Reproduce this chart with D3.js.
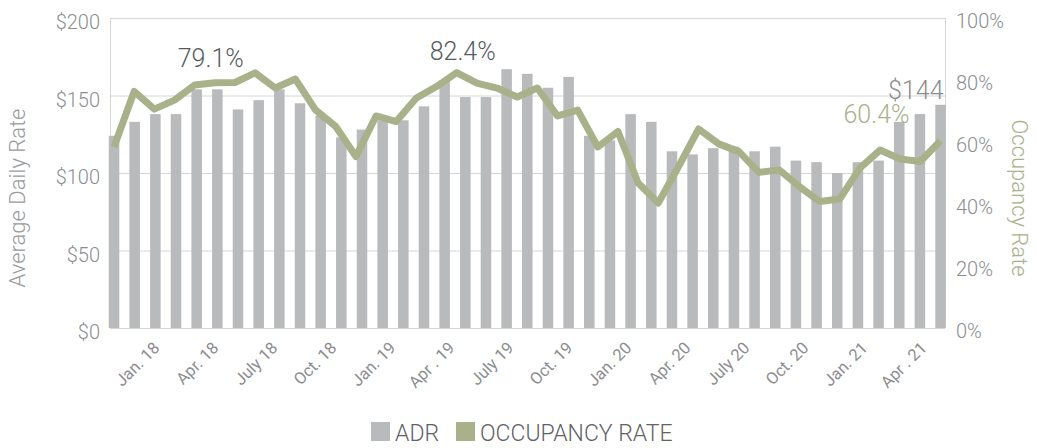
<!DOCTYPE html>
<html>
<head>
<meta charset="utf-8">
<script src="https://cdn.jsdelivr.net/npm/d3@7"></script>
<style>
  html, body { margin: 0; padding: 0; background: #ffffff; }
  svg { display: block; font-family: Roboto, "Noto Sans", sans-serif; }
</style>
</head>
<body>
<script>
// Monthly average daily rate (bars), Dec 2017 – Apr 2021
const adrMonths = [
  "Dec 17",
  "Jan 18","Feb 18","Mar 18","Apr 18","May 18","Jun 18","Jul 18","Aug 18","Sep 18","Oct 18","Nov 18","Dec 18",
  "Jan 19","Feb 19","Mar 19","Apr 19","May 19","Jun 19","Jul 19","Aug 19","Sep 19","Oct 19","Nov 19","Dec 19",
  "Jan 20","Feb 20","Mar 20","Apr 20","May 20","Jun 20","Jul 20","Aug 20","Sep 20","Oct 20","Nov 20","Dec 20",
  "Jan 21","Feb 21","Mar 21","Apr 21"
];
const adrValues = [
  124,
  133, 138, 138, 154, 154, 141, 147, 154, 145, 137, 123, 128,
  134, 134, 143, 160, 149, 149, 167, 164, 155, 162, 124, 121,
  138, 133, 114, 112, 116, 117, 114, 117, 108, 107, 100, 107,
  108, 133, 138, 144
];

// Monthly occupancy rate in percent (line), Nov 2017 – Apr 2021
const occMonths = [
  "Nov 17","Dec 17",
  "Jan 18","Feb 18","Mar 18","Apr 18","May 18","Jun 18","Jul 18","Aug 18","Sep 18","Oct 18","Nov 18","Dec 18",
  "Jan 19","Feb 19","Mar 19","Apr 19","May 19","Jun 19","Jul 19","Aug 19","Sep 19","Oct 19","Nov 19","Dec 19",
  "Jan 20","Feb 20","Mar 20","Apr 20","May 20","Jun 20","Jul 20","Aug 20","Sep 20","Oct 20","Nov 20","Dec 20",
  "Jan 21","Feb 21","Mar 21","Apr 21"
];
const occValues = [
  58.4, 76.3,
  70.6, 73.5, 78.4, 79.1, 79.2, 82.3, 77.4, 80.3, 70.3, 65.0, 55.3, 68.4,
  66.6, 74.2, 77.9, 82.4, 79.0, 77.4, 74.5, 77.4, 68.4, 70.3, 58.4, 63.4,
  46.8, 40.3, 52.0, 64.2, 59.4, 56.9, 50.2, 51.0, 45.6, 40.8, 41.6, 51.6,
  57.4, 54.5, 53.7, 60.4
];

// Quarterly labels along the bottom
const tickLabels = [
  "Jan. 18","Apr. 18","July 18","Oct. 18","Jan. 19","Apr . 19","July 19",
  "Oct. 19","Jan. 20","Apr. 20","July 20","Oct. 20","Jan. 21","Apr . 21"
];

const leftTicks = [0, 50, 100, 150, 200];
const rightTicks = [0, 20, 40, 60, 80, 100];

// Callouts on selected months
const callouts = [
  { series: "occ", month: "Apr 18", text: "79.1%", dx: -4, dy: -16, anchor: "middle", color: "#575b61" },
  { series: "occ", month: "Apr 19", text: "82.4%", dx: 6,  dy: -13, anchor: "middle", color: "#575b61" },
  { series: "adr", month: "Apr 21", text: "$144",  dx: 3,  dy: -6,  anchor: "end",    color: "#8c8d90" },
  { series: "occ", month: "Apr 21", text: "60.4%", dx: -31, dy: -18, anchor: "end",   color: "#a9b18b" }
];

const W = 1037, H = 448;
const plot = { left: 110, right: 945, top: 18, bottom: 328 };
const barColor = "#b9babc";
const lineColor = "#a9b18b";
const gridColor = "#d6d6d6";
const tickColor = "#8c8d90";

const svg = d3.select("body").append("svg").attr("width", W).attr("height", H);

const x = d3.scaleBand().domain(adrMonths).range([103.7, 950.9])
  .paddingInner(0.49).paddingOuter(0.245);
const xLine = d3.scalePoint().domain(occMonths).range([114, 940.5]);
const xLabel = d3.scalePoint().domain(tickLabels).range([160.5, 927.7]);
const yL = d3.scaleLinear().domain([0, 200]).range([plot.bottom, plot.top]);
const yR = d3.scaleLinear().domain([0, 100]).range([plot.bottom, plot.top]);

// gridlines
svg.append("g").selectAll("line").data(leftTicks).join("line")
  .attr("x1", plot.left).attr("x2", plot.right)
  .attr("y1", d => yL(d) + 0.5).attr("y2", d => yL(d) + 0.5)
  .attr("stroke", gridColor).attr("stroke-width", 1);

// side frame lines
svg.append("g").selectAll("line").data([plot.left, plot.right]).join("line")
  .attr("x1", d => d + 0.5).attr("x2", d => d + 0.5)
  .attr("y1", plot.top).attr("y2", plot.bottom)
  .attr("stroke", gridColor).attr("stroke-width", 1);

// bars
svg.append("g").selectAll("rect").data(adrValues).join("rect")
  .attr("x", (d, i) => x(adrMonths[i]))
  .attr("width", x.bandwidth())
  .attr("y", d => yL(d))
  .attr("height", d => yL(0) - yL(d))
  .attr("fill", barColor);

// occupancy line
const line = d3.line()
  .x((d, i) => xLine(occMonths[i]))
  .y(d => yR(d));
svg.append("path").datum(occValues)
  .attr("d", line)
  .attr("fill", "none")
  .attr("stroke", lineColor)
  .attr("stroke-width", 7)
  .attr("stroke-linejoin", "round")
  .attr("stroke-linecap", "butt");

// left axis labels
svg.append("g").selectAll("text").data(leftTicks).join("text")
  .attr("x", 100).attr("y", d => yL(d) + 11)
  .attr("text-anchor", "end")
  .attr("font-size", 20).attr("font-weight", 300)
  .attr("fill", tickColor)
  .text(d => "$" + d);

// right axis labels
svg.append("g").selectAll("text").data(rightTicks).join("text")
  .attr("x", 956).attr("y", d => yR(d) + 10)
  .attr("text-anchor", "start")
  .attr("font-size", 20).attr("font-weight", 300)
  .attr("fill", tickColor)
  .text(d => d + "%");

// bottom labels
svg.append("g").selectAll("text").data(tickLabels).join("text")
  .attr("transform", d => `translate(${xLabel(d)},349) rotate(-45)`)
  .attr("text-anchor", "end")
  .attr("font-size", 16.5).attr("font-weight", 400)
  .attr("fill", tickColor)
  .text(d => d);

// axis titles
svg.append("text")
  .attr("transform", "translate(25,198) rotate(-90)")
  .attr("text-anchor", "middle")
  .attr("font-size", 22).attr("font-weight", 300)
  .attr("fill", "#9a9b9e")
  .text("Average Daily Rate");

svg.append("text")
  .attr("transform", "translate(1012,198) rotate(90)")
  .attr("text-anchor", "middle")
  .attr("font-size", 22).attr("font-weight", 300)
  .attr("fill", lineColor)
  .text("Occupancy Rate");

// callouts
svg.append("g").selectAll("text").data(callouts).join("text")
  .attr("x", d => (d.series === "adr" ? x(d.month) + x.bandwidth() / 2 : xLine(d.month)) + d.dx)
  .attr("y", d => (d.series === "adr"
      ? yL(adrValues[adrMonths.indexOf(d.month)])
      : yR(occValues[occMonths.indexOf(d.month)])) + d.dy)
  .attr("text-anchor", d => d.anchor)
  .attr("font-size", 25).attr("font-weight", 300)
  .attr("fill", d => d.color)
  .text(d => d.text);

// legend
const legend = [
  { label: "ADR", color: barColor, x: 371 },
  { label: "OCCUPANCY RATE", color: lineColor, x: 456 }
];
const lg = svg.append("g").selectAll("g").data(legend).join("g")
  .attr("transform", d => `translate(${d.x},422)`);
lg.append("rect").attr("width", 19).attr("height", 19).attr("fill", d => d.color);
lg.append("text").attr("x", 24).attr("y", 18.5)
  .attr("font-size", 23).attr("font-weight", 300)
  .attr("fill", "#5f6266")
  .text(d => d.label);
</script>
</body>
</html>
